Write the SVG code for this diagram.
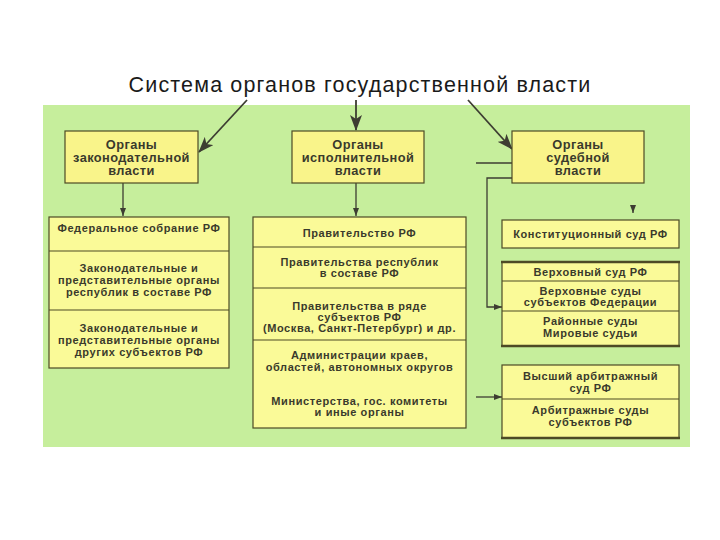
<svg xmlns="http://www.w3.org/2000/svg" width="720" height="540" viewBox="0 0 720 540">
<defs>
<style>
.title{font-family:"Liberation Sans",Arial,sans-serif;font-size:21.5px;letter-spacing:1.15px;fill:#1a1a1a}
.hb{fill:#f9f48a;stroke:#4d4a25;stroke-width:1.2}
.lb{fill:#fafa98;stroke:#4d4a25;stroke-width:1.2}
.div{stroke:#4d4a25;stroke-width:1.2}
.thick{stroke:#4d4a25;stroke-width:2.6}
.ht{font-family:"Liberation Sans",Arial,sans-serif;font-size:12.8px;letter-spacing:0.4px;font-weight:bold;fill:#3a3a2c;text-anchor:middle}
.t{font-family:"Liberation Sans",Arial,sans-serif;font-size:11px;letter-spacing:0.6px;font-weight:bold;fill:#3a3a2c;text-anchor:middle}
.c{fill:none;stroke:#3d3d32;stroke-width:1.3}
.cb{fill:none;stroke:#3d3d32;stroke-width:1.8}
</style>
<marker id="big" viewBox="0 0 16 12" refX="15" refY="6" markerWidth="16" markerHeight="12" markerUnits="userSpaceOnUse" orient="auto"><path d="M0,0 L16,6 L0,12 L4,6 Z" fill="#3d3d32"/></marker>
<marker id="sm" viewBox="0 0 8 6" refX="8" refY="3" markerWidth="8" markerHeight="6" markerUnits="userSpaceOnUse" orient="auto"><path d="M0,0 L8,3 L0,6 Z" fill="#3d3d32"/></marker>
</defs>
<rect width="720" height="540" fill="#ffffff"/>
<text class="title" x="360" y="92" text-anchor="middle">Система органов государственной власти</text>
<rect x="43" y="105" width="647" height="342" fill="#c6ee9c"/>

<g id="connectors">
<path class="cb" d="M247,100 L199,152" marker-end="url(#big)"/>
<path class="cb" d="M356,100 L356,130" marker-end="url(#big)"/>
<path class="cb" d="M468,100 L512,149" marker-end="url(#big)"/>
<path class="c" d="M123,183 L123,216" marker-end="url(#sm)"/>
<path class="c" d="M356,183 L356,216" marker-end="url(#sm)"/>
<path class="c" d="M476,163 L512,163"/>
<path class="c" d="M512,178 L487,178 L487,307 L502,307" marker-end="url(#sm)"/>
<path class="c" d="M476,397 L502,397" marker-end="url(#sm)"/>
<path class="c" d="M633,207 L633,213" marker-end="url(#sm)"/>
</g>

<g id="legislative">
<rect class="hb" x="65" y="131" width="133" height="52"/>
<text class="ht" x="131.5" y="149">Органы</text>
<text class="ht" x="131.5" y="162">законодательной</text>
<text class="ht" x="131.5" y="175">власти</text>
</g>
<g id="executive">
<rect class="hb" x="292" y="131" width="132" height="52"/>
<text class="ht" x="358" y="149">Органы</text>
<text class="ht" x="358" y="162">исполнительной</text>
<text class="ht" x="358" y="175">власти</text>
</g>
<g id="judicial">
<rect class="hb" x="512" y="131" width="132" height="52"/>
<text class="ht" x="578" y="149">Органы</text>
<text class="ht" x="578" y="162">судебной</text>
<text class="ht" x="578" y="175">власти</text>
</g>

<g id="legislative-list">
<rect class="lb" x="49" y="217" width="180" height="151"/>
<line class="div" x1="49" y1="251" x2="229" y2="251"/>
<line class="div" x1="49" y1="310" x2="229" y2="310"/>
<text class="t" x="139" y="232">Федеральное собрание РФ</text>
<text class="t" x="139" y="272">Законодательные и</text>
<text class="t" x="139" y="284">представительные органы</text>
<text class="t" x="139" y="296">республик в составе РФ</text>
<text class="t" x="139" y="332">Законодательные и</text>
<text class="t" x="139" y="344">представительные органы</text>
<text class="t" x="139" y="356">других субъектов РФ</text>
</g>

<g id="executive-list">
<rect class="lb" x="253" y="217" width="213" height="211"/>
<line class="div" x1="253" y1="247" x2="466" y2="247"/>
<line class="div" x1="253" y1="288" x2="466" y2="288"/>
<line class="div" x1="253" y1="340" x2="466" y2="340"/>
<text class="t" x="359.5" y="237">Правительство РФ</text>
<text class="t" x="359.5" y="266">Правительства республик</text>
<text class="t" x="359.5" y="277">в составе РФ</text>
<text class="t" x="359.5" y="310">Правительства в ряде</text>
<text class="t" x="359.5" y="321">субъектов РФ</text>
<text class="t" x="359.5" y="332">(Москва, Санкт-Петербург) и др.</text>
<text class="t" x="359.5" y="359">Администрации краев,</text>
<text class="t" x="359.5" y="371">областей, автономных округов</text>
<text class="t" x="359.5" y="405">Министерства, гос. комитеты</text>
<text class="t" x="359.5" y="416">и иные органы</text>
</g>

<g id="constitutional-court">
<rect class="lb" x="502" y="220" width="177" height="28"/>
<text class="t" x="590.5" y="238">Конституционный суд РФ</text>
</g>

<g id="general-courts">
<rect class="lb" x="502" y="262" width="177" height="84"/>
<line class="thick" x1="501" y1="262" x2="680" y2="262"/>
<line class="thick" x1="501" y1="346" x2="680" y2="346"/>
<line class="div" x1="502" y1="281" x2="679" y2="281"/>
<line class="div" x1="502" y1="311" x2="679" y2="311"/>
<text class="t" x="590.5" y="276">Верховный суд РФ</text>
<text class="t" x="590.5" y="295">Верховные суды</text>
<text class="t" x="590.5" y="306">субъектов Федерации</text>
<text class="t" x="590.5" y="325">Районные суды</text>
<text class="t" x="590.5" y="337">Мировые судьи</text>
</g>

<g id="arbitration-courts">
<rect class="lb" x="502" y="365" width="177" height="73"/>
<line class="thick" x1="501" y1="438" x2="680" y2="438"/>
<line class="div" x1="502" y1="399" x2="679" y2="399"/>
<text class="t" x="590.5" y="380">Высший арбитражный</text>
<text class="t" x="590.5" y="392">суд РФ</text>
<text class="t" x="590.5" y="414">Арбитражные суды</text>
<text class="t" x="590.5" y="426">субъектов РФ</text>
</g>
</svg>
